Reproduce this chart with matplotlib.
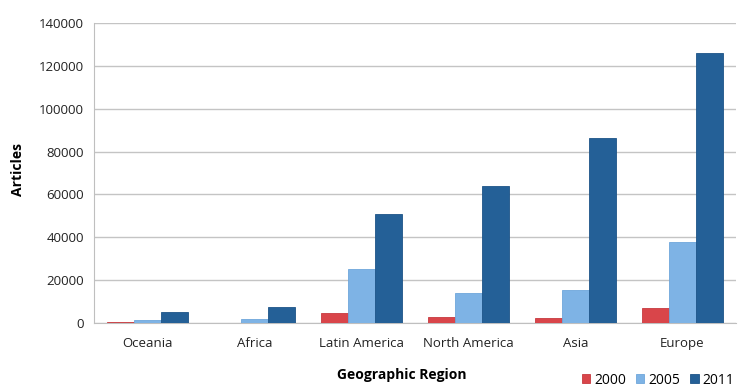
import matplotlib
matplotlib.use('Agg')
from matplotlib import pyplot as plt
import numpy as np

regions = ['Oceania', 'Africa', 'Latin America', 'North America', 'Asia', 'Europe']
y2000 = [300, 0, 4900, 2800, 2300, 6800]
y2005 = [1500, 1800, 25200, 14200, 15200, 38000]
y2011 = [5100, 7500, 51000, 63800, 86300, 126000]

plt.rcParams['font.family'] = ['Open Sans', 'DejaVu Sans']

fig = plt.figure(figsize=(7.54, 3.91), dpi=100)
ax = fig.add_axes([94/754, 1 - 323/391, 642/754, 300/391])

x = np.arange(len(regions))
w = 0.25
ax.bar(x - w, y2000, w, color='#d9454a', edgecolor='#c73a3f', linewidth=0.6, label='2000', zorder=3)
ax.bar(x, y2005, w, color='#7eb3e5', edgecolor='#6fa6db', linewidth=0.6, label='2005', zorder=3)
ax.bar(x + w, y2011, w, color='#246097', edgecolor='#1d5488', linewidth=0.6, label='2011', zorder=3)

ax.set_xlim(-0.5, len(regions) - 0.5)
ax.set_ylim(0, 140000)
ax.set_yticks(np.arange(0, 140001, 20000))
ax.set_xticks(x)
ax.set_xticklabels(regions)
ax.yaxis.grid(True, color='#c4c4c4', linewidth=1, zorder=0)
ax.tick_params(axis='both', length=0, labelsize=9.5, colors='#222222')
ax.tick_params(axis='x', pad=10)
ax.tick_params(axis='y', pad=7)
for s in ['top', 'right']:
    ax.spines[s].set_visible(False)
ax.spines['left'].set_color('#bfbfbf')
ax.spines['bottom'].set_color('#bfbfbf')

fig.text(402/754, 1 - 375/391, 'Geographic Region', ha='center', va='center',
         fontsize=10, fontweight='bold')
fig.text(18/754, 1 - 170/391, 'Articles', ha='center', va='center',
         rotation=90, fontsize=10, fontweight='bold')

fig.legend(loc='center right', bbox_to_anchor=(736/754, 1 - 380/391), ncol=3, frameon=False,
           fontsize=10, handlelength=0.6, handleheight=0.6, handletextpad=0.3,
           columnspacing=0.7, borderpad=0.1, borderaxespad=0)

plt.savefig('out.png', dpi=100)
